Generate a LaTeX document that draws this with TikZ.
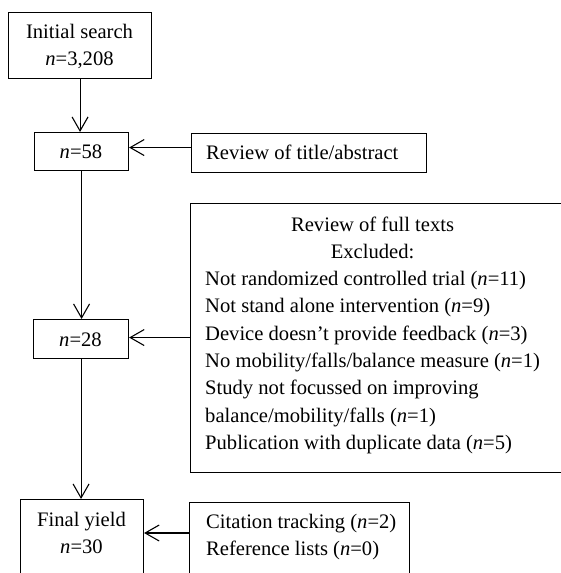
\documentclass[tikz,border=0pt]{standalone}
\usepackage{fontspec}
\setmainfont{Liberation Serif}
\usetikzlibrary{arrows.meta}
\newcommand{\lfttab}[1]{\begin{tabular}[t]{@{}l@{}}#1\end{tabular}}
\newcommand{\ctrtab}[1]{\begin{tabular}[t]{@{}c@{}}#1\end{tabular}}
\newcommand{\mycline}[1]{\multicolumn{1}{@{}c@{}}{#1}}
\begin{document}
\begin{tikzpicture}[x=1pt,y=-1pt,
  box/.style={draw, line width=1.1pt, inner sep=0pt, anchor=north west},
  txt/.style={inner sep=0pt, font=\fontsize{20.6}{27.3}\selectfont},
  arr/.style={line width=1.1pt, -{Straight Barb[length=14pt,width=16pt]}}]
\clip (0,0) rectangle (561,573);
% boxes
\node[box, minimum width=143pt, minimum height=66pt] (init) at (8,12) {};
\node[box, minimum width=94pt, minimum height=38pt] (n58) at (34,132) {};
\node[box, minimum width=235pt, minimum height=39pt] (title) at (191,133) {};
\node[box, minimum width=375pt, minimum height=269pt] (full) at (190,203) {};
\node[box, minimum width=95pt, minimum height=39pt] (n28) at (33,319) {};
\node[box, minimum width=123pt, minimum height=85pt] (final) at (20,499) {};
\node[box, minimum width=220pt, minimum height=82pt] (cite) at (189,502) {};
% texts
\node[txt, anchor=base] (initT) at (79.5,38.5) {\ctrtab{Initial search\\ \textit{n}=3,208}};
\node[txt, anchor=base] (n58T) at (81,158.5) {\textit{n}=58};
\node[txt, anchor=base west] (titleT) at (206,159) {Review of title/abstract};
\node[txt, anchor=base west] (fullT) at (205,231) {\lfttab{\mycline{Review of full texts}\\
  \mycline{Excluded:}\\
  Not randomized controlled trial (\textit{n}=11)\\
  Not stand alone intervention (\textit{n}=9)\\
  Device doesn’t provide feedback (\textit{n}=3)\\
  No mobility/falls/balance measure (\textit{n}=1)\\
  Study not focussed on improving\\
  balance/mobility/falls (\textit{n}=1)\\
  Publication with duplicate data (\textit{n}=5)}};
\node[txt, anchor=base] (n28T) at (80.5,346) {\textit{n}=28};
\node[txt, anchor=base] (finalT) at (81.5,526) {\ctrtab{Final yield\\ \textit{n}=30}};
\node[txt, anchor=base west] (citeT) at (206,528) {\lfttab{Citation tracking (\textit{n}=2)\\ Reference lists (\textit{n}=0)}};
% connectors
\draw[arr] (init.south) -- (init.south |- n58.north);
\draw[arr] ([yshift=5.5pt]title.west) coordinate (t1) -- (n58.east |- t1);
\draw[arr] (n58.south) -- (n58.south |- n28.north);
\draw[arr] ([yshift=0.5pt]full.west) coordinate (f1) -- (n28.east |- f1);
\draw[arr] (n28.south) -- (n28.south |- final.north);
\draw[arr] ([yshift=-31pt]cite.north west) coordinate (c1) -- (final.east |- c1);
\end{tikzpicture}
\end{document}
